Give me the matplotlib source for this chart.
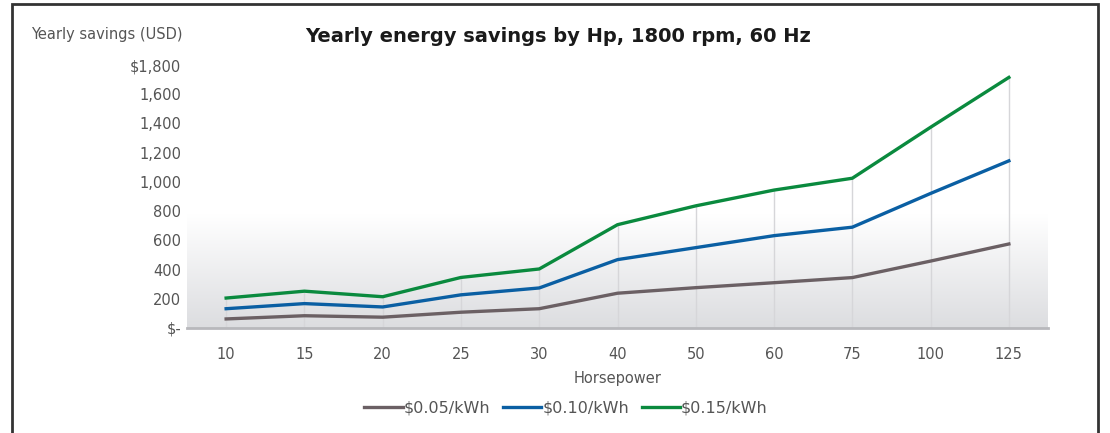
import numpy as np
import matplotlib
matplotlib.use("Agg")
import matplotlib.pyplot as plt
from matplotlib.patches import Rectangle
from matplotlib.ticker import FuncFormatter

horsepower = ["10", "15", "20", "25", "30", "40", "50", "60", "75", "100", "125"]
savings_005 = [62, 84, 74, 108, 132, 238, 276, 310, 345, 458, 575]
savings_010 = [132, 167, 144, 227, 274, 468, 550, 632, 690, 921, 1144]
savings_015 = [205, 252, 214, 346, 404, 707, 836, 944, 1025, 1374, 1715]
series_labels = ["$0.05/kWh", "$0.10/kWh", "$0.15/kWh"]
yticks = [0, 200, 400, 600, 800, 1000, 1200, 1400, 1600, 1800]

COLORS = ["#6b6064", "#0a5fa3", "#0a8a3e"]
TEXT = "#555555"

plt.rcParams["font.family"] = ["DejaVu Sans"]

fig = plt.figure(figsize=(11.1, 4.33), dpi=100, facecolor="white")
ax = fig.add_axes([187 / 1110, 1 - 328 / 433, (1048 - 187) / 1110, (328 - 65) / 433])

x = np.arange(len(horsepower))
ax.set_xlim(-0.5, len(horsepower) - 0.5)
ax.set_ylim(0, 1800)

# soft grey gradient behind the lower part of the plot
grad = np.linspace(0, 1, 256).reshape(-1, 1)
ax.imshow(grad, extent=(-0.5, len(horsepower) - 0.5, 0, 780), aspect="auto",
          cmap=matplotlib.colors.LinearSegmentedColormap.from_list("g", ["#dcdde0", "#ffffff"]),
          origin="lower", zorder=0)

tops = np.max([savings_005, savings_010, savings_015], axis=0)
ax.vlines(x, 0, tops, color="#d6d6d9", linewidth=1, zorder=1)

for vals, col, lab in zip([savings_005, savings_010, savings_015], COLORS, series_labels):
    ax.plot(x, vals, color=col, linewidth=2.4, label=lab, zorder=3)

ax.set_xticks(x)
ax.set_xticklabels(horsepower)
ax.set_yticks(yticks)
ax.yaxis.set_major_formatter(FuncFormatter(
    lambda v, p: "$-" if v == 0 else ("$" if v == 1800 else "") + f"{int(v):,}"))
ax.tick_params(axis="both", length=0, labelsize=10.5, colors=TEXT)
ax.tick_params(axis="x", pad=14)
ax.tick_params(axis="y", pad=4)
for s in ("top", "right", "left"):
    ax.spines[s].set_visible(False)
ax.spines["bottom"].set_color("#b8b8bc")
ax.spines["bottom"].set_linewidth(2)
ax.set_xlabel("Horsepower", fontsize=10.5, color=TEXT, labelpad=6)

fig.text(183 / 1110, 1 - 35 / 433, "Yearly savings (USD)", ha="right", va="center",
         fontsize=10.5, color=TEXT)
fig.text(558 / 1110, 1 - 37 / 433, "Yearly energy savings by Hp, 1800 rpm, 60 Hz",
         ha="center", va="center", fontsize=14, fontweight="bold", color="#1a1a1a")

ax.legend(loc="center", bbox_to_anchor=(566 / 1110, 1 - 408 / 433),
          bbox_transform=fig.transFigure, ncol=3, frameon=False, fontsize=11.5,
          handlelength=2.4, handletextpad=0.05, columnspacing=0.8, labelcolor=TEXT)

fig.patches.append(Rectangle((12 / 1110, -0.1), (1098 - 12) / 1110, 1.1 - 4 / 433,
                             transform=fig.transFigure, fill=False,
                             edgecolor="#333333", linewidth=2))

fig.savefig("out.png", dpi=100, facecolor="white")
